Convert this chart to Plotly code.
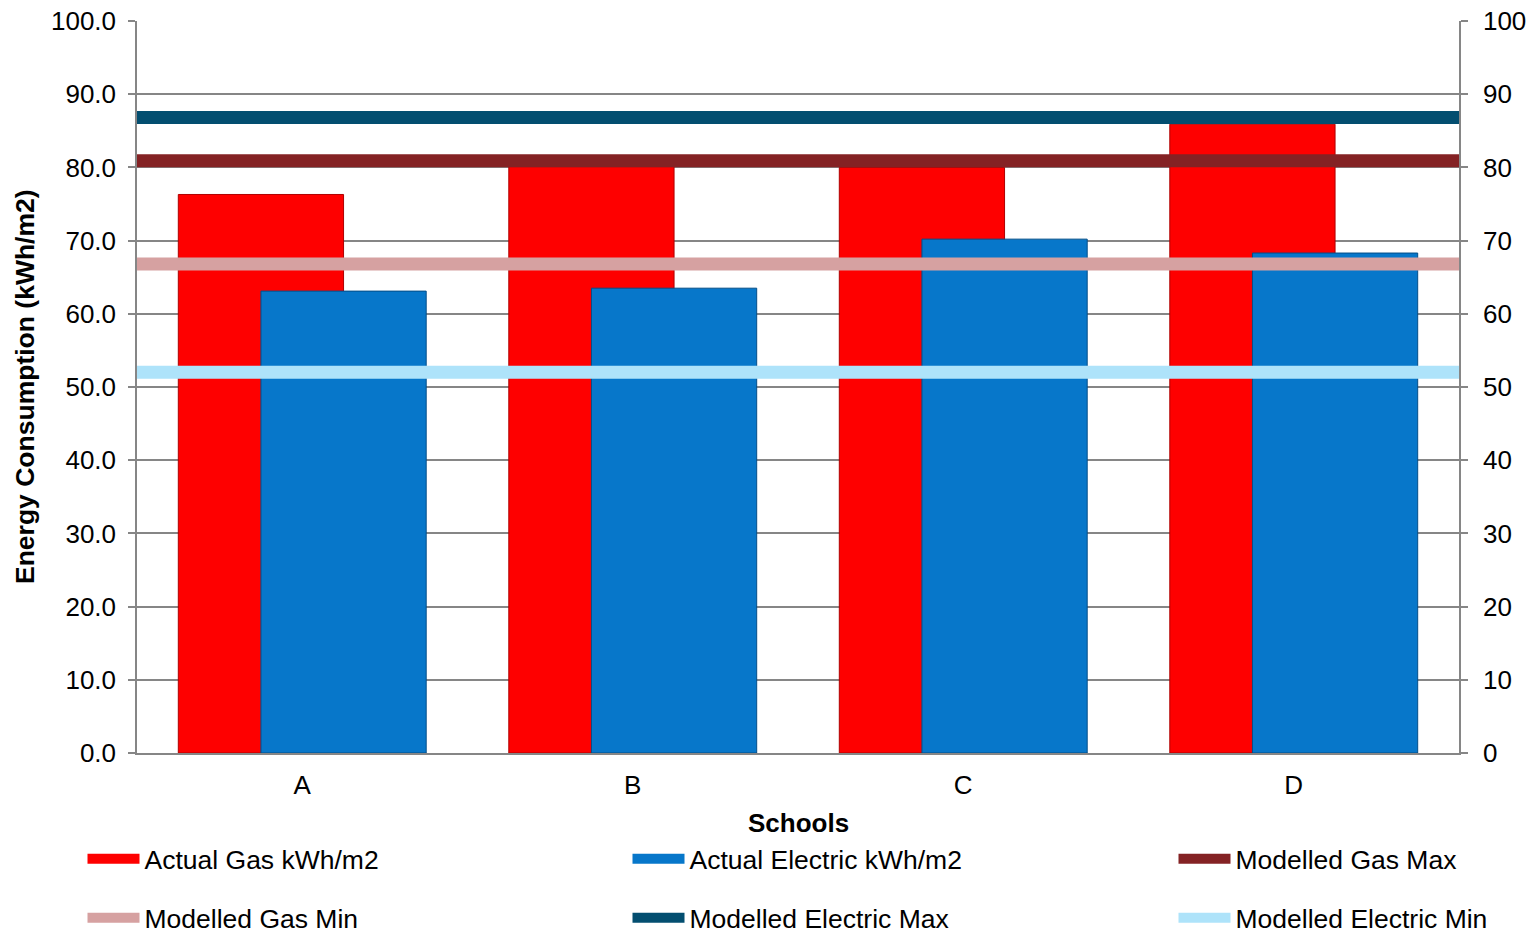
import plotly.graph_objects as go

schools = ["A", "B", "C", "D"]
actual_gas = [76.3, 80.1, 80.0, 85.9]
actual_electric = [63.1, 63.5, 70.2, 68.3]
modelled_gas_max = 80.9
modelled_gas_min = 66.8
modelled_electric_max = 86.8
modelled_electric_min = 52.0
y_ticks = [0, 10, 20, 30, 40, 50, 60, 70, 80, 90, 100]

FONT = "Liberation Sans, Arial, sans-serif"
OFF = 8  # page body margin
W, H = 1537 - OFF, 932 - OFF
ML, MR, MT, MB = 137 - OFF, 78, 21 - OFF, 179
PW, PH = W - ML - MR, H - MT - MB
xpos = list(range(len(schools)))
x_span = [-0.5, len(schools) - 0.5]

fig = go.Figure()
bars = [
    ("Actual Gas kWh/m2", actual_gas, -0.375, "#FE0000", "#B00000", "legend"),
    ("Actual Electric kWh/m2", actual_electric, -0.125, "#0777CA", "#044E88", "legend2"),
]
for name, vals, off, col, edge, lg in bars:
    fig.add_trace(go.Bar(
        x=xpos, y=vals, name=name, offset=off, width=0.5,
        marker=dict(color=col, line=dict(color=edge, width=1)),
        showlegend=False, legendgroup=name,
    ))
    # legend-only entry drawn as a wide bar swatch
    fig.add_trace(go.Scatter(
        x=[None], y=[None], name=name, mode="lines", legendgroup=name,
        line=dict(color=col, width=12), legend=lg, showlegend=True,
    ))

lines = [
    ("Modelled Gas Max", modelled_gas_max, "#842224", "legend3"),
    ("Modelled Gas Min", modelled_gas_min, "#D6A1A1", "legend4"),
    ("Modelled Electric Max", modelled_electric_max, "#034E70", "legend5"),
    ("Modelled Electric Min", modelled_electric_min, "#AEE3FA", "legend6"),
]
for name, val, col, lg in lines:
    fig.add_trace(go.Scatter(
        x=x_span, y=[val, val], name=name, mode="lines", showlegend=True,
        line=dict(color=col, width=13), yaxis="y2", legend=lg,
    ))

axis_font = dict(family=FONT, size=26, color="black")
legend_font = dict(family=FONT, size=26.5, color="black")

# legend entry positions in page px (text start, row centre)
legend_pos = {
    "legend": (146, 859), "legend2": (691, 859), "legend3": (1237, 859),
    "legend4": (146, 918), "legend5": (691, 918), "legend6": (1237, 918),
}
legend_layouts = {}
for key, (tx, ty) in legend_pos.items():
    legend_layouts[key] = dict(
        visible=True,
        xref="container", yref="container",
        x=(tx - OFF - 63.5) / W, xanchor="left",
        y=1 - (ty - OFF) / H, yanchor="middle",
        orientation="h", itemwidth=52, font=legend_font,
        bgcolor="rgba(0,0,0,0)", borderwidth=0,
    )

def px_x(p):
    return (p - OFF - ML) / PW

def px_y(p):
    return 1 - (p - OFF - MT) / PH

fig.update_layout(
    width=W, height=H, showlegend=True,
    margin=dict(l=ML, r=MR, t=MT, b=MB, autoexpand=False),
    plot_bgcolor="white", paper_bgcolor="white",
    font=dict(family=FONT, size=26, color="black"),
    barmode="overlay",
    xaxis=dict(
        range=x_span, tickvals=xpos, ticktext=schools,
        showgrid=False, showline=True, linecolor="#868686", linewidth=1.5,
        ticks="", tickfont=axis_font, ticklabelstandoff=8,
        zeroline=False,
    ),
    yaxis=dict(
        range=[0, 100], tickvals=y_ticks, tickformat=".1f",
        showgrid=True, gridcolor="#868686", gridwidth=1.5,
        showline=True, linecolor="#868686", linewidth=1.5,
        ticks="outside", ticklen=7, tickcolor="#868686", tickwidth=1.5,
        tickfont=axis_font, zeroline=False, ticklabelstandoff=7,
        ticklabeloverflow="allow",
    ),
    yaxis2=dict(
        range=[0, 100], tickvals=y_ticks, tickformat="d",
        overlaying="y", side="right", showgrid=False,
        showline=True, linecolor="#868686", linewidth=1.5,
        ticks="outside", ticklen=7, tickcolor="#868686", tickwidth=1.5,
        tickfont=axis_font, zeroline=False, ticklabelstandoff=10,
        ticklabeloverflow="allow",
    ),
    annotations=[
        dict(text="<b>Schools</b>", xref="paper", yref="paper",
             x=px_x(798), y=px_y(823), xanchor="center", yanchor="middle",
             showarrow=False, font=dict(family=FONT, size=26, color="black")),
        dict(text="<b>Energy Consumption (kWh/m2)</b>", xref="paper", yref="paper",
             x=px_x(25), y=px_y(387), xanchor="center", yanchor="middle",
             textangle=-90, showarrow=False,
             font=dict(family=FONT, size=26.5, color="black")),
    ],
    **legend_layouts,
)

fig.write_html("out.html")
